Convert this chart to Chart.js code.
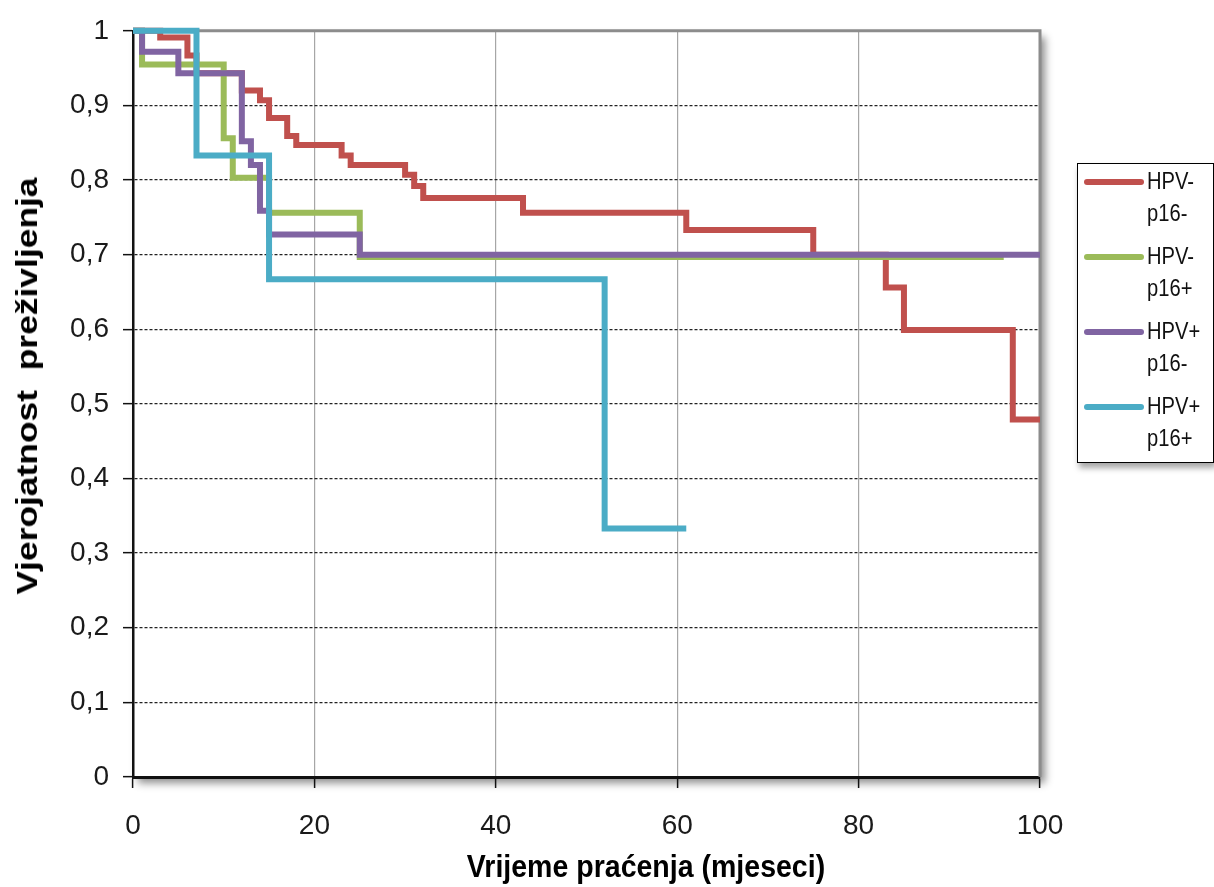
<!DOCTYPE html>
<html>
<head>
<meta charset="utf-8">
<script src="https://cdn.jsdelivr.net/npm/chart.js@4.4.0/dist/chart.umd.min.js"></script>
<style>
body { margin: 0; background: #fff; }
#wrap { position: relative; width: 1214px; height: 887px; overflow: hidden; }
#ytitle {
    position: absolute; left: 27px; top: 386px;
    font: bold 30px 'Liberation Sans', Arial, sans-serif; color: #000;
    white-space: pre; transform: translate(-50%, -50%) rotate(-90deg) scaleX(1.18);
}
#xtitle {
    position: absolute; left: 646px; top: 867px;
    font: bold 31px 'Liberation Sans', Arial, sans-serif; color: #000;
    white-space: pre; transform: translate(-50%, -50%) scaleX(0.92);
}
#legend {
    position: absolute; left: 1077px; top: 163px; width: 135px; height: 298px;
    border: 1px solid #000; background: #fff; box-shadow: 2px 5px 6px rgba(0,0,0,0.35);
}
.entry { position: absolute; left: 0; }
.entry .ln { position: absolute; left: 6px; top: 14px; width: 60px; height: 6px; border-radius: 3px; }
.entry .tx {
    position: absolute; left: 69px; top: 0; font: 24px 'Liberation Sans', Arial, sans-serif;
    line-height: 32px; color: #111; white-space: pre; transform: scaleX(0.84); transform-origin: left center;
}
</style>
</head>
<body>
<div id="wrap">
    <canvas id="myChart" width="1214" height="887"></canvas>
    <div id="ytitle">Vjerojatnost  preživljenja</div>
    <div id="xtitle">Vrijeme praćenja (mjeseci)</div>
    <div id="legend"></div>
</div>
<script>
// series names (two lines each, as in the legend)
var seriesNames = [['HPV-', 'p16-'], ['HPV-', 'p16+'], ['HPV+', 'p16-'], ['HPV+', 'p16+']]
var seriesColors = ['#C0504D', '#9BBB59', '#8064A2', '#4BACC6']

// Kaplan-Meier steps: month at which the curve drops, and the new survival value
var redMonths = [0, 3, 6, 7, 12, 14, 15, 17, 18, 23, 24, 30, 31, 32, 43, 61, 75, 83, 85, 97, 100]
var redSurv = [1, 0.991, 0.967, 0.943, 0.92, 0.907, 0.883, 0.859, 0.847, 0.833, 0.82, 0.807, 0.792, 0.776, 0.756, 0.733, 0.70, 0.656, 0.599, 0.479, 0.479]

var greenMonths = [0, 1, 10, 11, 15, 25, 96]
var greenSurv = [1, 0.955, 0.856, 0.803, 0.756, 0.697, 0.697]

var purpleMonths = [0, 1, 5, 12, 13, 14, 15, 25, 100]
var purpleSurv = [1, 0.972, 0.943, 0.852, 0.82, 0.759, 0.727, 0.70, 0.70]

var cyanMonths = [0, 7, 15, 52, 61]
var cyanSurv = [1, 0.833, 0.667, 0.333, 0.333]

var xTicks = [0, 20, 40, 60, 80, 100]

function toPoints(months, surv) {
    var pts = []
    for (var i = 0; i < months.length; i++) {
        pts.push({ x: months[i], y: surv[i] })
    }
    return pts
}

var allSeries = [
    toPoints(redMonths, redSurv),
    toPoints(greenMonths, greenSurv),
    toPoints(purpleMonths, purpleSurv),
    toPoints(cyanMonths, cyanSurv)
]

var datasets = []
for (var s = 0; s < allSeries.length; s++) {
    datasets.push({
        label: seriesNames[s].join(' '),
        data: allSeries[s],
        borderColor: seriesColors[s],
        backgroundColor: seriesColors[s],
        borderWidth: 6,
        stepped: 'before',
        pointRadius: 0,
        fill: false,
        clip: false,
        order: allSeries.length - s   // first series at the bottom, cyan on top
    })
}

// plot frame: shadow behind the area, gray top and right edge
var frame = {
    id: 'frame',
    beforeDraw: function (chart) {
        var a = chart.chartArea, c = chart.ctx
        c.save()
        c.shadowColor = 'rgba(0,0,0,0.45)'
        c.shadowBlur = 8
        c.shadowOffsetX = 5
        c.shadowOffsetY = 6
        c.fillStyle = '#fff'
        c.fillRect(a.left, a.top, a.right - a.left, a.bottom - a.top)
        c.restore()
    },
    beforeDatasetsDraw: function (chart) {
        var a = chart.chartArea, c = chart.ctx
        c.save()
        c.strokeStyle = '#8c8c8c'
        c.lineWidth = 3
        c.beginPath()
        c.moveTo(a.left, a.top)
        c.lineTo(a.right, a.top)
        c.lineTo(a.right, a.bottom)
        c.stroke()
        c.restore()
    }
}

var tickFont = { family: "'Liberation Sans', Arial, sans-serif", size: 28 }

var ctx = document.getElementById('myChart').getContext('2d')
var kmChart = new Chart(ctx, {
    type: 'line',
    data: { datasets: datasets },
    options: {
        responsive: false,
        animation: false,
        layout: { padding: { top: 27, right: 174, left: 0, bottom: 0 } },
        plugins: { legend: { display: false }, tooltip: { enabled: false } },
        scales: {
            x: {
                type: 'linear', min: 0, max: 100,
                afterBuildTicks: function (scale) {
                    scale.ticks = xTicks.map(function (v) { return { value: v } })
                },
                ticks: { font: tickFont, color: '#1a1a1a', padding: 21, maxRotation: 0 },
                grid: {
                    color: function (c) {
                        if (c.tick && (c.tick.value === 0 || c.tick.value === 100)) return 'rgba(0,0,0,0)'
                        return '#a6a6a6'
                    },
                    lineWidth: 1.2, tickLength: 11, tickColor: '#111', tickWidth: 1.5
                },
                border: { color: '#111', width: 3 },
                afterFit: function (scale) { scale.height = 110 }
            },
            y: {
                min: 0, max: 1,
                ticks: {
                    stepSize: 0.1, font: tickFont, color: '#1a1a1a', padding: 14,
                    callback: function (v) {
                        if (v < 0.001) return '0'
                        if (v > 0.999) return '1'
                        return v.toFixed(1).replace('.', ',')
                    }
                },
                grid: {
                    color: function (c) {
                        if (c.tick && c.tick.value > 0.999) return 'rgba(0,0,0,0)'
                        return '#222'
                    },
                    lineWidth: 1.3, tickLength: 10, tickColor: '#111', tickWidth: 1.5
                },
                border: {
                    color: '#111', width: 2.5,
                    dash: function (c) { return c.tick ? [3, 2] : [] }
                },
                afterFit: function (scale) { scale.width = 133 }
            }
        }
    },
    plugins: [frame]
})

// legend built from the series names and colours
var legendBox = document.getElementById('legend')
for (var k = 0; k < seriesNames.length; k++) {
    var entry = document.createElement('div')
    entry.className = 'entry'
    entry.style.top = (1 + k * 75) + 'px'
    var ln = document.createElement('div')
    ln.className = 'ln'
    ln.style.background = seriesColors[k]
    var tx = document.createElement('div')
    tx.className = 'tx'
    tx.textContent = seriesNames[k].join('\n')
    entry.appendChild(ln)
    entry.appendChild(tx)
    legendBox.appendChild(entry)
}
</script>
</body>
</html>
